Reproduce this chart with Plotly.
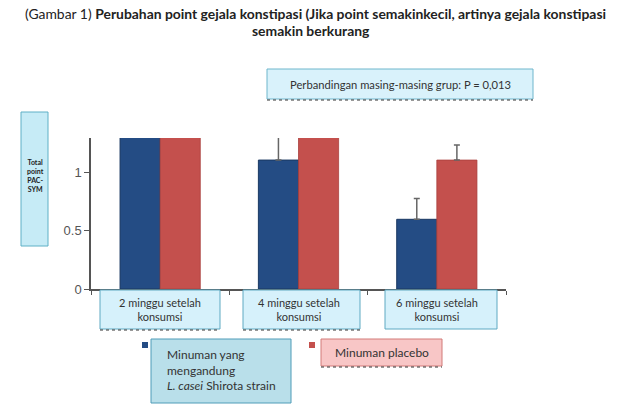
import plotly.graph_objects as go

# ---- data ----
categories = ["2 minggu setelah<br>konsumsi", "4 minggu setelah<br>konsumsi", "6 minggu setelah<br>konsumsi"]
cat_keys = ["2w", "4w", "6w"]
lcasei_values = [1.36, 1.11, 0.60]
lcasei_err = [0.10, 0.22, 0.18]
placebo_values = [1.36, 1.36, 1.11]
placebo_err = [0.10, 0.10, 0.13]
y_ticks = [0, 0.5, 1]
y_tick_labels = ["0", "0.5", "1"]
series_names = ["Minuman yang<br>mengandung<br><i>L. casei</i> Shirota strain", "Minuman placebo"]

BLUE = "#244c84"
RED = "#c4504d"
FONT = "Lato"

W, H = 620, 413
L, R, T, B = 91, 506, 138, 289


def px_x(p):
    return (p - L) / (R - L)


def px_y(p):
    return (B - p) / (B - T)


fig = go.Figure()
fig.add_trace(go.Bar(
    x=cat_keys, y=lcasei_values, name="L. casei", showlegend=False,
    marker=dict(color=BLUE, line=dict(color="#1a3862", width=1)),
    error_y=dict(type="data", array=lcasei_err, arrayminus=[0, 0, 0], symmetric=False,
                 color="#666666", thickness=1.5, width=3),
))
fig.add_trace(go.Bar(
    x=cat_keys, y=placebo_values, name="placebo", showlegend=False,
    marker=dict(color=RED, line=dict(color="#a9403d", width=0.8)),
    error_y=dict(type="data", array=placebo_err, arrayminus=[0, 0, 0], symmetric=False,
                 color="#666666", thickness=1.5, width=3),
))

shapes = []
annotations = []


def box(x0, y0, x1, y1, fill, line, dotted_bottom=False):
    shapes.append(dict(type="rect", xref="paper", yref="paper",
                       x0=px_x(x0), x1=px_x(x1), y0=px_y(y1), y1=px_y(y0),
                       fillcolor=fill, line=dict(color=line, width=1), layer="above"))
    if dotted_bottom:
        shapes.append(dict(type="line", xref="paper", yref="paper",
                           x0=px_x(x0), x1=px_x(x1), y0=px_y(y1 + 1), y1=px_y(y1 + 1),
                           line=dict(color="#333333", width=1, dash="dot"), layer="above"))


def text(x, y, s, size, color="#333333", xanchor="center", align="center", yanchor="middle"):
    annotations.append(dict(xref="paper", yref="paper", x=px_x(x), y=px_y(y), text=s,
                            showarrow=False, xanchor=xanchor, yanchor=yanchor, align=align,
                            font=dict(family=FONT, size=size, color=color)))


# title
text(315, 13, "(Gambar 1) <b>Perubahan point gejala konstipasi (Jika point semakinkecil, artinya gejala konstipasi</b>",
     13.9, color="#222222")
text(311, 31, "<b>semakin berkurang</b>", 13.9, color="#222222")

# p-value box
box(267, 69, 533, 99, "#d9f2fb", "#6fb6cc", dotted_bottom=True)
text(400, 84, "Perbandingan masing-masing grup: P = 0,013", 11.2)

# y-axis title box
box(21, 112, 48, 246, "#c6ebf6", "#5fb0c6")
text(35, 175, "<b>Total<br>point<br>PAC-<br>SYM</b>", 7, color="#222222")

# category label boxes (positioned on the x axis)
cat_boxes = [(100, 220, True), (243, 360, True), (385, 497, False)]
for (x0, x1, dot), label, key in zip(cat_boxes, categories, cat_keys):
    box(x0, 290, x1, 329, "#d6f1fb", "#5fa9c2", dotted_bottom=dot)
    annotations.append(dict(xref="x", yref="paper", x=key, y=px_y(309.5), text=label,
                            showarrow=False, xanchor="center", yanchor="middle",
                            font=dict(family=FONT, size=11, color="#333333")))

# legend
shapes.append(dict(type="rect", xref="paper", yref="paper", x0=px_x(142), x1=px_x(148),
                   y0=px_y(348), y1=px_y(342), fillcolor=BLUE, line=dict(width=0), layer="above"))
box(151, 339, 291, 403, "#b9dfea", "#4f9cb8")
text(165, 370, series_names[0], 12, xanchor="left", align="left")

shapes.append(dict(type="rect", xref="paper", yref="paper", x0=px_x(309), x1=px_x(315),
                   y0=px_y(348), y1=px_y(342), fillcolor=RED, line=dict(width=0), layer="above"))
box(321, 339, 442, 366, "#f8c6c6", "#d27a78", dotted_bottom=True)
text(382, 352, series_names[1], 12)

fig.update_layout(
    width=W, height=H,
    margin=dict(l=L, r=W - R, t=T, b=H - B, pad=0),
    paper_bgcolor="white", plot_bgcolor="white",
    barmode="group", bargap=0.42, bargroupgap=0,
    shapes=shapes, annotations=annotations,
    font=dict(family=FONT),
    xaxis=dict(showticklabels=False, showgrid=False, zeroline=False, showline=True,
               linecolor="#555555", linewidth=1.5, ticks="outside", tickson="boundaries",
               ticklen=4, tickcolor="#555555"),
    yaxis=dict(range=[0, 1.3], tickvals=y_ticks, ticktext=y_tick_labels, showgrid=False,
               zeroline=False, showline=True, linecolor="#555555", linewidth=1.5,
               ticks="outside", ticklen=5, tickcolor="#555555",
               tickfont=dict(family="Liberation Sans", size=13, color="#555555")),
)

fig.write_html("out.html")
